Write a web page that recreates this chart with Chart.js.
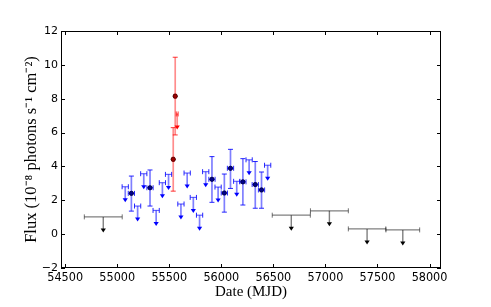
<!DOCTYPE html>
<html><head><meta charset="utf-8">
<script src="https://cdn.jsdelivr.net/npm/chart.js@4"></script>
<style>html,body{margin:0;padding:0;background:#fff}#wrap{width:491px;height:307px}</style>
</head><body><div id="wrap"><canvas id="c" width="491" height="307"></canvas></div>
<script>
// ---- tick values / labels
const xTicks = [54500, 55000, 55500, 56000, 56500, 57000, 57500, 58000];
const yTicks = [-2, 0, 2, 4, 6, 8, 10, 12];
const yTickLabels = ['\u22122', '0', '2', '4', '6', '8', '10', '12'];

// ---- yearly upper limits (black)
const yearX = [54866, 56672, 57038, 57400, 57743];
const yearHalfWidth = [182, 183, 182, 180, 162];
const yearUL = [1.02, 1.12, 1.38, 0.31, 0.25];

// ---- 60-day bins: detections (blue)
const binHalfWidth = 30;
const binDetX  = [55136, 55315, 55910, 56029, 56088, 56207, 56326, 56386];
const binDetY  = [2.41, 2.74, 3.24, 2.43, 3.89, 3.09, 2.93, 2.61];
const binDetHi = [3.43, 3.79, 4.58, 3.55, 5.01, 4.46, 4.29, 3.67];
const binDetLo = [1.36, 1.66, 1.88, 1.30, 2.70, 1.72, 1.53, 1.53];

// ---- 60-day bins: upper limits (blue)
const binUlX = [55077, 55196, 55255, 55374, 55434, 55493, 55612, 55672, 55731, 55791, 55850, 55969, 56148, 56267, 56445];
const binUlY = [2.80, 1.66, 3.57, 1.40, 3.04, 3.53, 1.78, 3.61, 2.17, 1.12, 3.69, 2.78, 3.12, 4.39, 4.07];

// ---- flare bins (red)
const flareHalfWidth = 9;
const flareDetX  = [55538, 55557];
const flareDetY  = [4.42, 8.15];
const flareDetHi = [6.29, 10.45];
const flareDetLo = [2.54, 5.86];
const flareUlX = [55576];
const flareUlY = [7.10];

const pts = (xs, ys) => xs.map((x, i) => ({x, y: ys[i]}));

const ARROW = 15.5, CAP = 2.5;

const ebPlugin = {
  id: 'eb',
  afterDatasetsDraw(chart) {
    const ctx = chart.ctx, xs = chart.scales.x, ys = chart.scales.y, a = chart.chartArea;
    ctx.save();
    ctx.beginPath(); ctx.rect(a.left, a.top, a.right - a.left, a.bottom - a.top); ctx.clip();
    const line = (x1, y1, x2, y2, c, w) => {
      ctx.strokeStyle = c; ctx.lineWidth = w;
      ctx.beginPath(); ctx.moveTo(x1, y1); ctx.lineTo(x2, y2); ctx.stroke();
    };
    chart.data.datasets.forEach((ds, di) => {
      const eb = ds.eb; if (!eb) return;
      const meta = chart.getDatasetMeta(di);
      meta.data.forEach((el, i) => {
        const d = ds.data[i];
        const px = el.x, py = el.y;
        const hw = eb.half[i];
        const xl = xs.getPixelForValue(d.x - hw), xr = xs.getPixelForValue(d.x + hw);
        if (eb.ul) {
          line(px, py, px, py + ARROW - 3, eb.vColor, eb.vWidth);
          line(xl, py, xr, py, eb.hColor, eb.hWidth);
          line(xl, py - CAP, xl, py + CAP, eb.capColor, 1);
          line(xr, py - CAP, xr, py + CAP, eb.capColor, 1);
          ctx.fillStyle = eb.headColor;
          ctx.beginPath();
          ctx.moveTo(px - 2.6, py + ARROW - 4);
          ctx.lineTo(px + 2.6, py + ARROW - 4);
          ctx.lineTo(px, py + ARROW);
          ctx.closePath(); ctx.fill();
        } else {
          const yt = ys.getPixelForValue(eb.hi[i]), yb = ys.getPixelForValue(eb.lo[i]);
          line(px, yt, px, yb, eb.vColor, eb.vWidth);
          line(px - CAP, yt, px + CAP, yt, eb.capColor, 1);
          line(px - CAP, yb, px + CAP, yb, eb.capColor, 1);
          line(xl, py, xr, py, eb.hColor, eb.hWidth);
          line(xl, py - CAP, xl, py + CAP, eb.capColor, 1);
          line(xr, py - CAP, xr, py + CAP, eb.capColor, 1);
        }
      });
    });
    ctx.restore();
    // redraw detection markers on top
    chart.data.datasets.forEach((ds, di) => {
      if (ds.eb && !ds.eb.ul) chart.getDatasetMeta(di).data.forEach(el => el.draw(ctx, a));
    });
  }
};

const framePlugin = {
  id: 'frame',
  afterDraw(chart) {
    const ctx = chart.ctx, a = chart.chartArea, xs = chart.scales.x, ys = chart.scales.y;
    ctx.save();
    ctx.strokeStyle = '#000'; ctx.lineWidth = 1;
    ctx.strokeRect(a.left + 0.5, a.top + 0.5, a.right - a.left - 1, a.bottom - a.top - 1);
    ctx.beginPath();
    const T = 4;
    xTicks.forEach(v => {
      const x = Math.round(xs.getPixelForValue(v)) + 0.5;
      ctx.moveTo(x, a.bottom); ctx.lineTo(x, a.bottom - T);
      ctx.moveTo(x, a.top); ctx.lineTo(x, a.top + T);
    });
    yTicks.forEach(v => {
      const y = Math.round(ys.getPixelForValue(v)) + 0.5;
      ctx.moveTo(a.left, y); ctx.lineTo(a.left + T, y);
      ctx.moveTo(a.right, y); ctx.lineTo(a.right - T, y);
    });
    ctx.stroke();
    ctx.restore();
  }
};

const blueEb = {vColor: 'rgba(0,0,255,0.5)', vWidth: 1.7, hColor: 'rgba(0,0,255,0.6)', hWidth: 1.2, capColor: 'rgba(0,0,255,0.85)', headColor: '#0000ff'};
const redEb = {vColor: 'rgba(255,0,0,0.45)', vWidth: 1.7, hColor: 'rgba(255,0,0,0.6)', hWidth: 1.2, capColor: 'rgba(255,0,0,0.8)', headColor: '#ff0000'};
const blackEb = {vColor: 'rgba(0,0,0,0.5)', vWidth: 1.4, hColor: 'rgba(0,0,0,0.5)', hWidth: 1.3, capColor: 'rgba(0,0,0,0.55)', headColor: '#000000'};

new Chart(document.getElementById('c'), {
  type: 'scatter',
  data: {
    datasets: [
      {label: 'year UL', data: pts(yearX, yearUL), pointRadius: 0,
       eb: Object.assign({ul: true, half: yearHalfWidth}, blackEb)},
      {label: 'bin UL', data: pts(binUlX, binUlY), pointRadius: 0,
       eb: Object.assign({ul: true, half: binUlX.map(() => binHalfWidth)}, blueEb)},
      {label: 'flare UL', data: pts(flareUlX, flareUlY), pointRadius: 0,
       eb: Object.assign({ul: true, half: flareUlX.map(() => flareHalfWidth)}, redEb)},
      {label: 'bin', data: pts(binDetX, binDetY), pointRadius: 2.1, pointStyle: 'circle',
       backgroundColor: '#00008a', borderColor: '#000030', borderWidth: 0.6,
       eb: Object.assign({ul: false, half: binDetX.map(() => binHalfWidth), hi: binDetHi, lo: binDetLo}, blueEb)},
      {label: 'flare', data: pts(flareDetX, flareDetY), pointRadius: 2.1, pointStyle: 'circle',
       backgroundColor: '#a00000', borderColor: '#300000', borderWidth: 0.6,
       eb: Object.assign({ul: false, half: flareDetX.map(() => flareHalfWidth), hi: flareDetHi, lo: flareDetLo}, redEb)}
    ]
  },
  options: {
    responsive: false, animation: false, devicePixelRatio: 1,
    layout: {padding: {top: 31, right: 50, left: 0, bottom: 0}},
    plugins: {legend: {display: false}, tooltip: {enabled: false}},
    scales: {
      x: {
        type: 'linear', position: 'bottom', min: 54460, max: 58110,
        afterBuildTicks: s => { s.ticks = xTicks.map(v => ({value: v})); },
        afterFit: s => { s.height = 39; },
        grid: {display: false, drawTicks: false}, border: {display: false},
        ticks: {padding: 2, maxRotation: 0, autoSkip: false, color: '#000',
                font: {family: '"Liberation Sans Narrow", "DejaVu Sans Condensed", sans-serif', size: 12.5},
                callback: v => String(v)},
        title: {display: true, text: 'Date (MJD)', color: '#000',
                font: {family: '"Liberation Serif", serif', size: 15}, padding: {top: 0, bottom: 6}}
      },
      y: {
        type: 'linear', position: 'left', min: -2, max: 12,
        afterBuildTicks: s => { s.ticks = yTicks.map(v => ({value: v})); },
        afterFit: s => { s.width = 61; },
        grid: {display: false, drawTicks: false}, border: {display: false},
        ticks: {padding: 3, color: '#000',
                font: {family: '"DejaVu Sans", sans-serif', size: 11},
                callback: v => yTickLabels[yTicks.indexOf(v)]},
        title: {display: true, text: 'Flux (10\u207B\u2078 photons s\u207B\u00B9 cm\u207B\u00B2)', color: '#000',
                font: {family: '"Liberation Serif", serif', size: 16.5}, padding: {top: 22, bottom: 0}}
      }
    }
  },
  plugins: [ebPlugin, framePlugin]
});
</script></body></html>
